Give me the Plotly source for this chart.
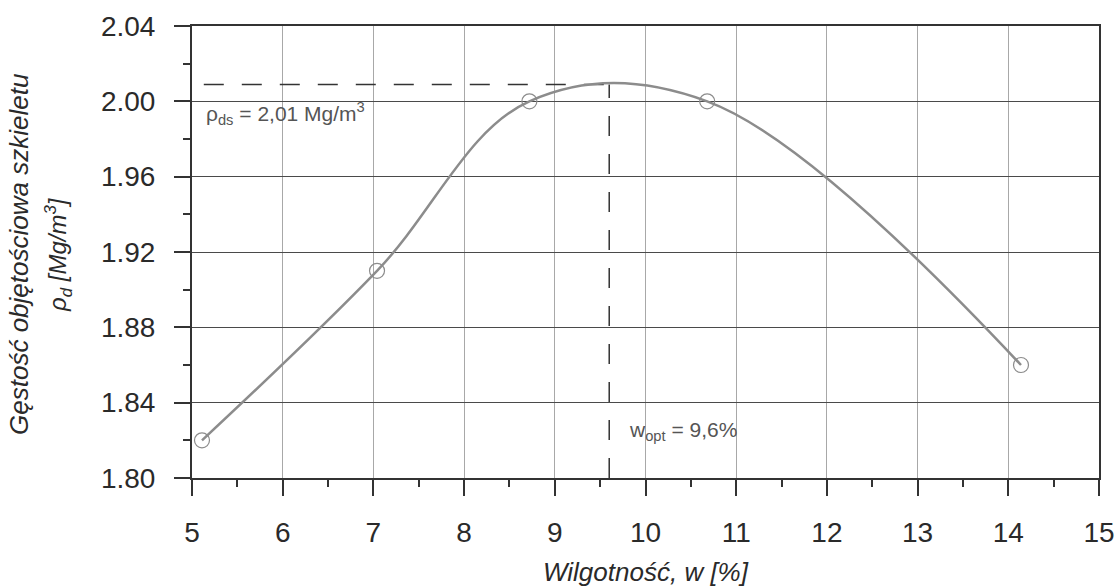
import plotly.graph_objects as go

# Measured points
moisture = [5.11, 7.04, 8.72, 10.68, 14.14]
density = [1.82, 1.91, 2.00, 2.00, 1.86]

# Optimum values
w_opt = 9.6
rho_ds = 2.009
dash_start = 5.13

x_ticks = [5, 6, 7, 8, 9, 10, 11, 12, 13, 14, 15]
y_ticks = [1.80, 1.84, 1.88, 1.92, 1.96, 2.00, 2.04]
y_tick_labels = ["1.80", "1.84", "1.88", "1.92", "1.96", "2.00", "2.04"]

FONT = "Liberation Sans, Arial, sans-serif"

fig = go.Figure()

# dashed helper lines
fig.add_trace(go.Scatter(
    x=[dash_start, w_opt], y=[rho_ds, rho_ds], mode="lines",
    line=dict(color="#333333", width=1.5, dash="20px,18px"),
    hoverinfo="skip", showlegend=False))
fig.add_trace(go.Scatter(
    x=[w_opt, w_opt], y=[1.80, rho_ds], mode="lines",
    line=dict(color="#333333", width=1.5, dash="20px,18px"),
    hoverinfo="skip", showlegend=False))

# compaction curve
fig.add_trace(go.Scatter(
    x=moisture, y=density, mode="lines+markers",
    line=dict(color="#8c8c8c", width=2.5, shape="spline", smoothing=1.05),
    marker=dict(symbol="circle-open", size=15, color="#8c8c8c",
                line=dict(color="#8c8c8c", width=1.2)),
    showlegend=False))

fig.update_layout(
    width=1118, height=588,
    margin=dict(l=192, r=19, t=26, b=110, autoexpand=False),
    paper_bgcolor="white", plot_bgcolor="white",
    font=dict(family=FONT, color="#2a2a2a"),
    showlegend=False,
)

fig.update_xaxes(
    range=[5, 15], tickvals=x_ticks, ticktext=[str(v) for v in x_ticks],
    tickfont=dict(size=28, color="#2a2a2a"),
    ticks="outside", ticklen=16, tickwidth=1.5, tickcolor="#333333",
    ticklabelstandoff=12, automargin=False,
    showline=True, linecolor="#333333", linewidth=2, mirror=True,
    showgrid=True, gridcolor="#a8a8a8", gridwidth=1,
    zeroline=False,
    minor=dict(dtick=0.5, ticks="outside", ticklen=7, tickcolor="#333333",
               tickwidth=1.5, showgrid=False),
)
fig.update_yaxes(
    range=[1.80, 2.04], tickvals=y_ticks, ticktext=y_tick_labels,
    tickfont=dict(size=28, color="#2a2a2a"),
    ticks="outside", ticklen=16, tickwidth=1.5, tickcolor="#333333",
    ticklabelstandoff=13, automargin=False,
    showline=True, linecolor="#333333", linewidth=2, mirror=True,
    showgrid=True, gridcolor="#4a4a4a", gridwidth=1,
    zeroline=False,
    minor=dict(dtick=0.02, ticks="outside", ticklen=7, tickcolor="#333333",
               tickwidth=1.5, showgrid=False),
)

# x-axis title
fig.add_annotation(
    xref="paper", yref="paper", x=0.5, y=-0.208, xanchor="center", yanchor="middle",
    text="<i>Wilgotność, w [%]</i>", showarrow=False,
    font=dict(size=26, color="#2a2a2a", family=FONT))

# y-axis title in two lines
fig.add_annotation(
    xref="paper", yref="paper", x=-0.19, y=0.495, xanchor="center", yanchor="middle",
    text="<i>Gęstość objętościowa szkieletu</i>", textangle=-90, showarrow=False,
    font=dict(size=26, color="#2a2a2a", family=FONT))
fig.add_annotation(
    xref="paper", yref="paper", x=-0.147, y=0.495, xanchor="center", yanchor="middle",
    text="<i>ρ<sub>d</sub> [Mg/m<sup>3</sup>]</i>", textangle=-90, showarrow=False,
    font=dict(size=24, color="#2a2a2a", family=FONT))

# value labels
fig.add_annotation(
    x=dash_start, y=1.9935, xanchor="left", yanchor="middle", showarrow=False,
    text="ρ<sub>ds</sub> = 2,01 Mg/m<sup>3</sup>",
    font=dict(size=21, color="#555555", family=FONT))
fig.add_annotation(
    x=9.8, y=1.825, xanchor="left", yanchor="middle", showarrow=False,
    text="w<sub>opt</sub> = 9,6%",
    font=dict(size=21, color="#555555", family=FONT))

# remove the default page margin so the figure sits at the window origin
fig.write_html(
    "out.html",
    config={"displayModeBar": False},
    post_script="document.body.style.margin='0';document.body.style.overflow='hidden';",
)
